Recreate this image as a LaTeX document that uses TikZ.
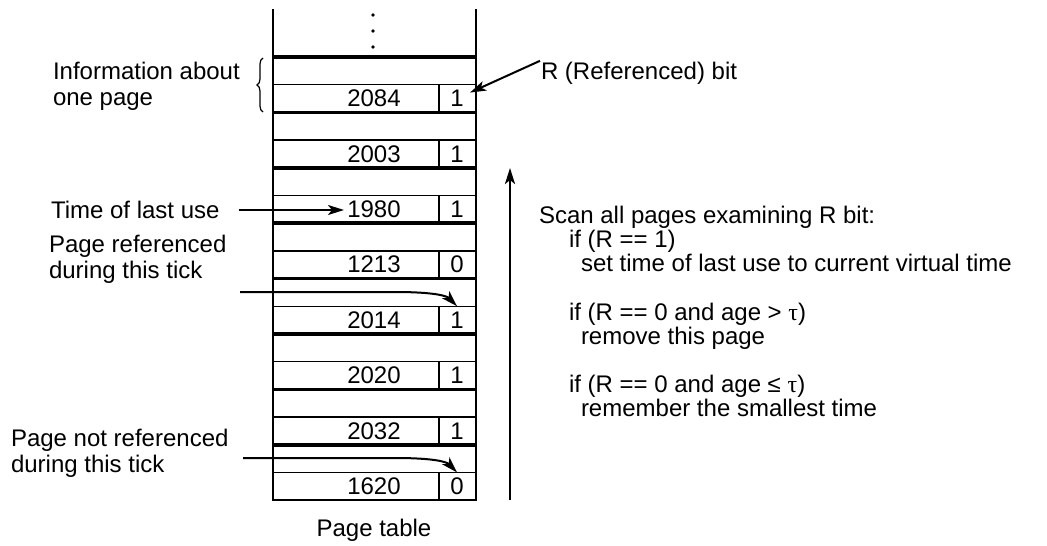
\documentclass[tikz,border=0pt]{standalone}
\usepackage{fontspec}
\setmainfont{Liberation Sans}
\newfontfamily\greekfont{Liberation Serif}
\usetikzlibrary{matrix,arrows.meta,decorations.pathreplacing}

\tikzset{
 lbl/.style={inner sep=0pt, align=left, font=\fontsize{24}{26}\selectfont},
 grpline/.style={line width=3.5pt},
 rowline/.style={line width=1.5pt},
 >={Stealth[length=16pt,width=10pt,inset=4pt]}
}

\begin{document}
\begin{tikzpicture}[x=1pt, y=-1pt, line width=2pt]
 \useasboundingbox (0,0) rectangle (1047,546);
 \matrix (pt) [matrix of nodes, anchor=north west, inner sep=0pt, outer sep=0pt,
   row sep={55.4pt,between origins}, column sep={83pt,between origins},
   nodes={inner sep=0pt, minimum height=27.7pt, font=\fontsize{24}{26}\selectfont},
   column 1/.style={nodes={minimum width=60pt}},
   column 2/.style={nodes={minimum width=26pt}}] at (344,84.6)
  {
   2084 & 1 \\
   2003 & 1 \\
   1980 & 1 \\
   1213 & 0 \\
   2014 & 1 \\
   2020 & 1 \\
   2032 & 1 \\
   1620 & 0 \\
  };
 % page table frame
 \draw[line width=2.5pt] (273,9) -- (273,500) -- (476,500) -- (476,9);
 \foreach \i in {0,...,7} {
  \draw[grpline] (273,57+\i*55.4) -- (476,57+\i*55.4);
  \draw[rowline] (273,84.7+\i*55.4) -- (476,84.7+\i*55.4);
  \draw[rowline] (439,84.7+\i*55.4) -- (439,112.4+\i*55.4);
 }
 \foreach \y in {15,31,47} \fill (373,\y) circle (1.8pt);
 \node[lbl] (ptcap) at (374,530) {Page table};

 \node[lbl, anchor=west] (info) at (52,86.5) {Information about\\one page};
 \draw[line width=1.2pt, decorate, decoration={brace,amplitude=6pt}] (263,112) -- (263,58);

 \node[lbl, anchor=west] (rbit) at (540,73) {R (Referenced) bit};
 \draw[->] (rbit.north west) -- (pt-1-2);

 \node[lbl, anchor=west] (lastuse) at (50,210) {Time of last use};
 \draw[->, shorten <=18pt] (lastuse.east) -- (lastuse.east -| pt-3-1.west);

 \node[lbl, anchor=west] (pref) at (48,259.5) {Page referenced\\during this tick};
 \coordinate (prefa) at (240,292);
 \draw[->] (prefa) -- (395,292) .. controls (435,292) and (447,296) .. (pt-5-2.north);

 \node[lbl, anchor=west] (pnref) at (10,453.5) {Page not referenced\\during this tick};
 \coordinate (pnrefa) at (243,458);
 \draw[->] (pnrefa) -- (395,458) .. controls (435,458) and (447,462) .. (pt-8-2.north);

 \coordinate (scanlo) at (510,500);
 \coordinate (scanhi) at (510,168);
 \draw[->, line width=2.5pt] (scanlo) -- (scanhi);

 \node[lbl, anchor=north west, font=\fontsize{24}{24.2}\selectfont] (scan) at (538,205)
  {Scan all pages examining R bit:\\
   \hspace*{30pt}if (R == 1)\\
   \hspace*{42pt}set time of last use to current virtual time\\[24.2pt]
   \hspace*{30pt}if (R == 0 and age > {\greekfont τ})\\
   \hspace*{42pt}remove this page\\[24.2pt]
   \hspace*{30pt}if (R == 0 and age ≤ {\greekfont τ})\\
   \hspace*{42pt}remember the smallest time};
\end{tikzpicture}
\end{document}
